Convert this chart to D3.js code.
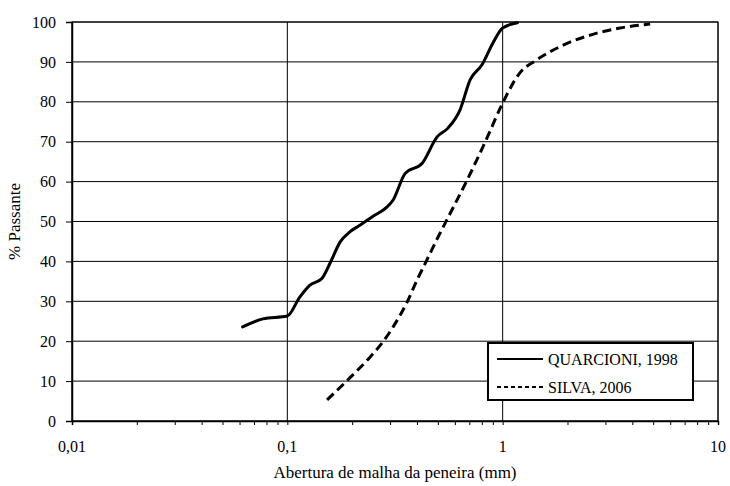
<!DOCTYPE html>
<html>
<head>
<meta charset="utf-8">
<script src="https://cdn.jsdelivr.net/npm/d3@7"></script>
<style>
body { margin: 0; background: #fff; }
</style>
</head>
<body>
<svg id="chart" width="730" height="486"></svg>
<script>
// sieve opening (mm) vs % passing
var quarcioniX = [0.062, 0.077, 0.1, 0.114, 0.127, 0.145, 0.158, 0.176, 0.195, 0.218, 0.25, 0.29, 0.31, 0.352, 0.423, 0.496, 0.557, 0.634, 0.706, 0.80, 0.90, 1.0, 1.17];
var quarcioniY = [23.6, 25.6, 26.3, 31, 34, 35.8, 39.6, 44.9, 47.4, 49.1, 51.3, 53.6, 55.4, 62, 64.6, 71.2, 73.4, 78, 85.5, 89.2, 94.7, 98.5, 99.8];
var silvaX = [0.153, 0.195, 0.242, 0.275, 0.31, 0.36, 0.40, 0.445, 0.50, 0.57, 0.684, 0.85, 1.0, 1.2, 1.44, 1.91, 2.74, 3.51, 4.84];
var silvaY = [5.3, 10.8, 16, 19.5, 23.6, 29.8, 35.3, 40.4, 46, 52, 60.4, 71.2, 79.7, 87.2, 90.5, 94.2, 97.2, 98.5, 99.5];
var seriesNames = ['QUARCIONI, 1998', 'SILVA, 2006'];
var xTickValues = [0.01, 0.1, 1, 10];
var xTickLabels = ['0,01', '0,1', '1', '10'];
var yTickValues = [0, 10, 20, 30, 40, 50, 60, 70, 80, 90, 100];

var serif = '"Liberation Serif", "Times New Roman", Times, "DejaVu Serif", serif';

var svg = d3.select('#chart'),
	margin = {top: 22, right: 12, bottom: 65, left: 72},
	width = +svg.attr('width') - margin.left - margin.right,
	height = +svg.attr('height') - margin.top - margin.bottom;

var x = d3.scaleLog().domain([0.01, 10]).range([0, width]),
	y = d3.scaleLinear().domain([0, 100]).range([height, 0]);

var g = svg.append('g')
	.attr('transform', 'translate(' + margin.left + ',' + margin.top + ')');

// horizontal grid
g.selectAll('.hgrid')
	.data(yTickValues)
	.enter().append('line')
	.attr('x1', 0).attr('x2', width)
	.attr('y1', function(d) { return y(d); })
	.attr('y2', function(d) { return y(d); })
	.attr('stroke', '#000').attr('stroke-width', 1);

// vertical grid at decades
g.selectAll('.vgrid')
	.data(xTickValues)
	.enter().append('line')
	.attr('x1', function(d) { return x(d); })
	.attr('x2', function(d) { return x(d); })
	.attr('y1', 0).attr('y2', height)
	.attr('stroke', '#000').attr('stroke-width', 1);

// frame
g.append('rect')
	.attr('width', width).attr('height', height)
	.attr('fill', 'none').attr('stroke', '#000').attr('stroke-width', 1);

// x axis with minor ticks
var minor = [];
for (var dec = 0.01; dec < 10; dec *= 10) {
	for (var k = 1; k < 10; k++) minor.push(dec * k);
}
minor.push(10);

var xAxis = g.append('g')
	.attr('transform', 'translate(0,' + height + ')')
	.call(d3.axisBottom(x).tickValues(minor).tickSize(4).tickFormat(''));
xAxis.select('.domain').attr('stroke-width', 1.5);

g.selectAll('.xlab')
	.data(xTickValues)
	.enter().append('text')
	.attr('x', function(d) { return x(d); })
	.attr('y', height + 31)
	.attr('text-anchor', 'middle')
	.style('font-family', serif)
	.style('font-size', '16px')
	.text(function(d, i) { return xTickLabels[i]; });

var yAxis = g.append('g')
	.call(d3.axisLeft(y).tickValues(yTickValues).tickSize(6).tickPadding(10));
yAxis.select('.domain').attr('stroke-width', 1.5);
yAxis.selectAll('text')
	.style('font-size', '16px')
	.style('font-family', serif);

// axis titles
svg.append('text')
	.attr('x', margin.left + width / 2)
	.attr('y', 478)
	.attr('text-anchor', 'middle')
	.style('font-family', serif)
	.style('font-size', '17px')
	.text('Abertura de malha da peneira (mm)');

svg.append('text')
	.attr('transform', 'translate(20,' + (margin.top + height / 2) + ') rotate(-90)')
	.attr('text-anchor', 'middle')
	.style('font-family', serif)
	.style('font-size', '17px')
	.text('% Passante');

// curves
var line = d3.line()
	.x(function(d) { return x(d[0]); })
	.y(function(d) { return y(d[1]); })
	.curve(d3.curveMonotoneX);

g.append('path')
	.datum(d3.zip(quarcioniX, quarcioniY))
	.attr('fill', 'none').attr('stroke', '#000').attr('stroke-width', 3)
	.attr('stroke-linecap', 'round')
	.attr('d', line);

g.append('path')
	.datum(d3.zip(silvaX, silvaY))
	.attr('fill', 'none').attr('stroke', '#000').attr('stroke-width', 3)
	.attr('stroke-dasharray', '9,5')
	.attr('d', line);

// legend
var lg = svg.append('g').attr('transform', 'translate(488,343)');
lg.append('rect')
	.attr('width', 205).attr('height', 57)
	.attr('fill', '#fff').attr('stroke', '#000').attr('stroke-width', 2);

var dashes = [null, '4,3'];
seriesNames.forEach(function(name, i) {
	var yy = 16 + i * 28;
	lg.append('line')
		.attr('x1', 9).attr('x2', 55)
		.attr('y1', yy).attr('y2', yy)
		.attr('stroke', '#000').attr('stroke-width', 2)
		.attr('stroke-dasharray', dashes[i]);
	lg.append('text')
		.attr('x', 60).attr('y', yy + 6)
		.style('font-family', serif)
		.style('font-size', '16px')
		.text(name);
});
</script>
</body>
</html>
